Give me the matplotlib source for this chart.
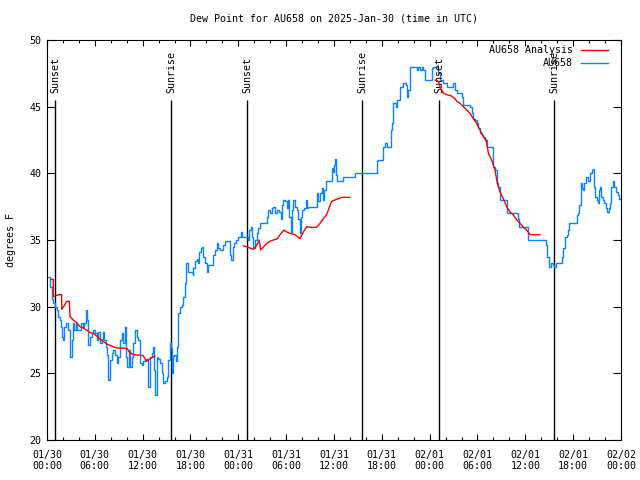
import matplotlib
matplotlib.use("Agg")
import matplotlib.pyplot as plt
import matplotlib.dates as mdates
import pandas as pd

plt.rcParams.update({
    "font.family": "DejaVu Sans Mono",
    "font.size": 7.2,
})

T0 = pd.Timestamp("2025-01-30 00:00")

# observed dew point (hours since 01/30 00:00 UTC, degrees F)
obs_hours = [
    0.16, 0.38, 0.59, 0.71, 1.0, 1.22, 1.42, 1.63, 1.72, 1.84, 1.97, 2.13, 2.38, 2.67,
    2.89, 3.1, 3.3, 3.42, 3.64, 3.8, 4.05, 4.23, 4.48, 4.68, 4.89, 5.06, 5.18, 5.39,
    5.6, 5.81, 6.02, 6.23, 6.44, 6.65, 6.86, 7.06, 7.19, 7.4, 7.49, 7.69, 7.9, 8.11,
    8.32, 8.53, 8.74, 8.94, 9.16, 9.37, 9.57, 9.78, 9.91, 10.07, 10.25, 10.41, 10.62,
    10.83, 11.04, 11.25, 11.45, 11.67, 11.88, 12.08, 12.29, 12.5, 12.71, 12.92, 13.13,
    13.33, 13.46, 13.59, 13.76, 13.96, 14.17, 14.38, 14.59, 14.8, 15.02, 15.22, 15.43,
    15.55, 15.64, 15.77, 15.93, 16.18, 16.35, 16.47, 16.68, 16.9, 17.1, 17.31, 17.44,
    17.72, 18.15, 18.27, 18.35, 18.56, 18.78, 18.9, 19.1, 19.28, 19.41, 19.53, 19.82,
    20.03, 20.24, 20.66, 20.86, 21.07, 21.29, 21.49, 21.7, 22.04, 22.33, 22.74, 22.96,
    23.08, 23.29, 23.46, 23.71, 24.0, 24.3, 24.42, 25.05, 25.18, 25.38, 25.55, 25.68,
    25.88, 26.09, 26.3, 26.5, 26.72, 27.13, 27.56, 27.63, 27.76, 27.97, 28.19, 28.39,
    28.6, 28.81, 29.14, 29.31, 29.48, 29.64, 29.85, 30.07, 30.19, 30.36, 30.57, 30.73,
    30.9, 31.11, 31.32, 31.52, 31.74, 31.86, 32.03, 32.24, 32.45, 32.58, 32.78, 33.4,
    33.83, 33.9, 34.04, 34.24, 34.46, 34.66, 34.78, 34.96, 35.59, 35.71, 35.91, 36.0,
    36.13, 36.25, 36.42, 36.75, 37.09, 38.42, 38.63, 41.14, 41.35, 41.55, 41.98, 42.1,
    42.4, 42.61, 43.03, 43.11, 43.24, 43.44, 43.78, 43.94, 44.28, 44.69, 45.03, 45.2,
    45.32, 45.53, 46.16, 46.37, 46.58, 46.79, 47.0, 47.2, 47.42, 48.04, 48.25, 48.46,
    48.96, 49.08, 49.3, 49.71, 50.13, 50.55, 50.97, 51.18, 51.39, 51.81, 52.02, 52.22,
    53.06, 53.27, 53.48, 53.69, 53.9, 54.1, 54.31, 54.52, 54.73, 54.94, 55.15, 55.78,
    55.9, 55.98, 56.19, 56.4, 56.61, 56.82, 56.83, 57.66, 57.74, 58.92, 59.05, 59.25,
    60.17, 60.3, 60.38, 62.47, 62.6, 62.76, 63.01, 63.19, 63.44, 63.6, 63.86, 64.36,
    64.58, 64.77, 64.98, 65.19, 65.32, 65.52, 66.24, 66.45, 66.66, 66.78, 66.96, 67.12,
    67.29, 67.42, 67.63, 67.84, 68.11, 68.32, 68.53, 68.62, 68.78, 68.95, 69.08, 69.24,
    69.37, 69.49, 69.71, 69.91, 70.12, 70.29, 70.5, 70.63, 70.75, 70.96, 71.16, 71.37,
    71.59, 71.79, 72.0,
]
obs_dewpt = [
    32.25, 31.5, 30.6, 30.3, 30.0, 29.75, 29.25, 29.0, 28.5, 27.75, 27.5, 28.5, 28.75, 28.25,
    26.25, 27.5, 28.75, 28.25, 28.75, 28.25, 28.25, 28.75, 28.5, 28.75, 29.75, 29.0, 27.1, 27.75,
    28.0, 28.25, 28.0, 27.5, 28.1, 27.25, 27.6, 28.1, 27.5, 27.0, 26.4, 24.5, 26.0, 26.5,
    26.75, 26.4, 25.75, 26.25, 27.5, 28.0, 27.25, 28.5, 26.25, 25.5, 26.75, 25.5, 26.25,
    27.25, 28.25, 27.75, 27.5, 25.75, 25.6, 25.9, 26.1, 26.0, 24.0, 26.25, 26.5,
    27.0, 25.25, 23.4, 26.25, 26.1, 25.75, 25.0, 24.25, 24.4, 24.75, 26.0, 27.25,
    26.9, 25.0, 26.3, 26.4, 25.9, 27.0, 29.5, 30.0, 30.1, 30.75, 31.75, 33.25,
    32.6, 32.6, 32.4, 32.9, 33.4, 33.6, 33.25, 34.1, 34.4, 34.5, 33.75, 33.25,
    32.6, 33.1, 33.1, 33.9, 34.25, 34.75, 34.4, 34.25, 34.6, 34.9, 34.9, 33.9,
    33.5, 34.5, 34.75, 35.0, 35.25, 35.6, 35.25, 35.25, 35.0, 35.75, 36.0, 35.25,
    34.4, 35.0, 35.5, 35.9, 36.25, 36.25, 36.25, 36.75, 37.25, 37.0, 37.4, 37.5,
    37.0, 37.25, 37.1, 36.6, 37.6, 38.0, 37.9, 37.4, 38.0, 36.75, 35.6, 37.25,
    38.0, 37.5, 37.25, 36.6, 35.5, 36.75, 37.25, 37.4, 38.0, 37.4, 37.5, 37.5,
    37.5, 38.5, 37.9, 38.5, 38.9, 38.0, 38.75, 39.4, 39.4, 40.4, 40.1, 40.6,
    41.1, 39.9, 39.4, 39.4, 39.7, 39.7, 40.0, 40.0, 40.9, 41.0, 41.0, 42.0,
    42.3, 42.0, 42.0, 43.25, 43.75, 45.25, 45.0, 45.5, 46.5, 46.75, 46.6, 45.75,
    46.25, 48.0, 48.0, 47.75, 48.0, 47.75, 48.0, 47.75, 47.0, 47.0, 47.9, 48.0,
    48.0, 47.5, 47.0, 46.75, 46.5, 46.5, 46.75, 46.25, 46.0, 46.0, 45.75, 45.1,
    45.0, 44.5, 44.1, 44.0, 43.75, 43.4, 43.0, 42.9, 42.75, 42.5, 42.0, 42.0,
    41.25, 40.5, 40.25, 39.25, 39.0, 38.5, 38.0, 38.0, 37.0, 37.0, 36.6, 36.0,
    36.0, 35.6, 35.0, 35.0, 34.6, 33.75, 33.0, 33.25, 33.1, 33.0, 33.25, 33.25,
    33.75, 34.4, 35.25, 35.4, 35.75, 36.25, 36.25, 36.9, 37.0, 37.6, 39.25, 38.9,
    38.75, 39.25, 39.75, 39.4, 40.0, 40.25, 40.3, 39.0, 38.25, 38.0, 37.75, 38.75,
    39.0, 38.25, 38.0, 37.75, 37.4, 37.1, 37.4, 37.75, 39.0, 39.4, 39.0, 38.6,
    38.4, 38.1, 37.9,
]

# analysis, three separate runs
ana1_hours = [0.5, 0.79, 0.79, 1.0, 1.42, 1.84, 1.84, 2.13, 2.47, 2.8, 2.89, 3.3, 3.72,
              4.14, 4.55, 4.98, 5.39, 5.81, 6.23, 6.65, 7.06, 7.49, 7.9, 8.32, 8.74,
              9.57, 10.07, 10.32, 10.83, 11.88, 12.08, 12.5, 12.92, 13.55]
ana1_dewpt = [32.05, 32.05, 30.75, 30.8, 30.9, 30.9, 29.8, 30.05, 30.4, 30.4, 29.25, 29.0,
              28.8, 28.5, 28.4, 28.25, 28.05, 28.0, 27.8, 27.55, 27.4, 27.2, 27.1, 27.0,
              26.9, 26.9, 26.85, 26.6, 26.4, 26.35, 26.3, 25.9, 26.1, 26.3]
ana2_hours = [24.62, 25.05, 25.46, 25.88, 26.3, 26.63, 26.8, 27.13, 27.47, 27.97, 28.39,
              28.9, 29.23, 29.73, 30.07, 30.48, 31.11, 31.74, 32.15, 32.58, 33.2, 33.83,
              34.24, 34.66, 35.08, 35.5, 35.71, 36.13, 36.54, 36.96, 37.38, 38.0]
ana2_dewpt = [34.55, 34.5, 34.4, 34.3, 34.6, 35.0, 34.25, 34.45, 34.7, 34.9, 35.0,
              35.1, 35.4, 35.75, 35.6, 35.5, 35.4, 35.1, 35.6, 36.0, 35.95, 35.95,
              36.25, 36.6, 36.9, 37.6, 37.9, 38.0, 38.1, 38.2, 38.2, 38.2]
ana3_hours = [48.67, 49.08, 49.3, 49.51, 49.71, 50.13, 50.76, 51.18, 51.39, 51.81, 52.22,
              52.64, 53.06, 53.48, 53.9, 54.31, 54.73, 55.08, 55.37, 55.78, 56.19, 56.49,
              56.82, 57.24, 57.66, 58.07, 58.49, 58.92, 59.34, 59.75, 60.17, 60.59, 61.84]
ana3_dewpt = [47.0, 46.9, 46.5, 46.25, 46.0, 45.9, 45.8, 45.6, 45.4, 45.25, 45.0,
              44.75, 44.5, 44.1, 43.75, 43.25, 42.75, 42.5, 41.5, 41.0, 40.25, 39.25,
              38.6, 38.1, 37.5, 37.1, 36.9, 36.5, 36.25, 35.95, 35.75, 35.4, 35.4]

sun_times = ["2025-01-30 01:00", "2025-01-30 15:33", "2025-01-31 01:08",
             "2025-01-31 15:33", "2025-02-01 01:13", "2025-02-01 15:38"]
sun_labels = ["Sunset", "Sunrise", "Sunset", "Sunrise", "Sunset", "Sunrise"]


def to_time(hours):
    return T0 + pd.to_timedelta(hours, unit="h")


BLUE = "#0a84ff"
RED = "#ff0000"

fig = plt.figure(figsize=(6.4, 4.8), dpi=100)
ax = fig.add_axes([47 / 640, 40 / 480, 574 / 640, 400 / 480])

ax.plot(to_time(obs_hours), obs_dewpt, color=BLUE, lw=1.0, drawstyle="steps-post", zorder=3)
for h, v in [(ana1_hours, ana1_dewpt), (ana2_hours, ana2_dewpt), (ana3_hours, ana3_dewpt)]:
    ax.plot(to_time(h), v, color=RED, lw=1.0, zorder=4)

# sunrise / sunset markers
st = pd.to_datetime(sun_times)
ax.vlines(st, 20, 45.5, color="black", lw=1.0, zorder=2)
for t, lab in zip(st, sun_labels):
    ax.text(t, 46.0, lab, rotation=90, ha="center", va="bottom", fontsize=7.2)

ax.set_xlim(T0, T0 + pd.Timedelta(hours=72))
ax.set_ylim(20, 50)
ax.set_yticks([20, 25, 30, 35, 40, 45, 50])
ax.xaxis.set_major_locator(mdates.HourLocator(byhour=[0, 6, 12, 18]))
ax.xaxis.set_minor_locator(mdates.HourLocator(interval=2))
ax.xaxis.set_major_formatter(mdates.DateFormatter("%m/%d\n%H:%M"))

for s in ax.spines.values():
    s.set_linewidth(0.8)
ax.tick_params(axis="both", which="both", direction="in", top=True, right=True,
               width=0.8, labelsize=7.2)
ax.tick_params(axis="y", which="major", length=6, pad=4)
ax.tick_params(axis="x", which="major", length=4, pad=7)
ax.tick_params(axis="x", which="minor", length=2)

ax.set_ylabel("degrees F", fontsize=7.2, labelpad=10)
ax.set_title("Dew Point for AU658 on 2025-Jan-30 (time in UTC)", fontsize=7.2, pad=13)

# gnuplot-style key: label on the left, sample line on the right
key_x_text = 0.916
ax.text(key_x_text, 0.975, "AU658 Analysis", transform=ax.transAxes, ha="right",
        va="center", fontsize=7.2)
ax.text(key_x_text, 0.943, "AU658", transform=ax.transAxes, ha="right",
        va="center", fontsize=7.2)
ax.plot([0.93, 0.978], [0.975, 0.975], transform=ax.transAxes, color=RED, lw=1.0)
ax.plot([0.93, 0.978], [0.943, 0.943], transform=ax.transAxes, color=BLUE, lw=1.0)

fig.savefig("out.png", dpi=100)
